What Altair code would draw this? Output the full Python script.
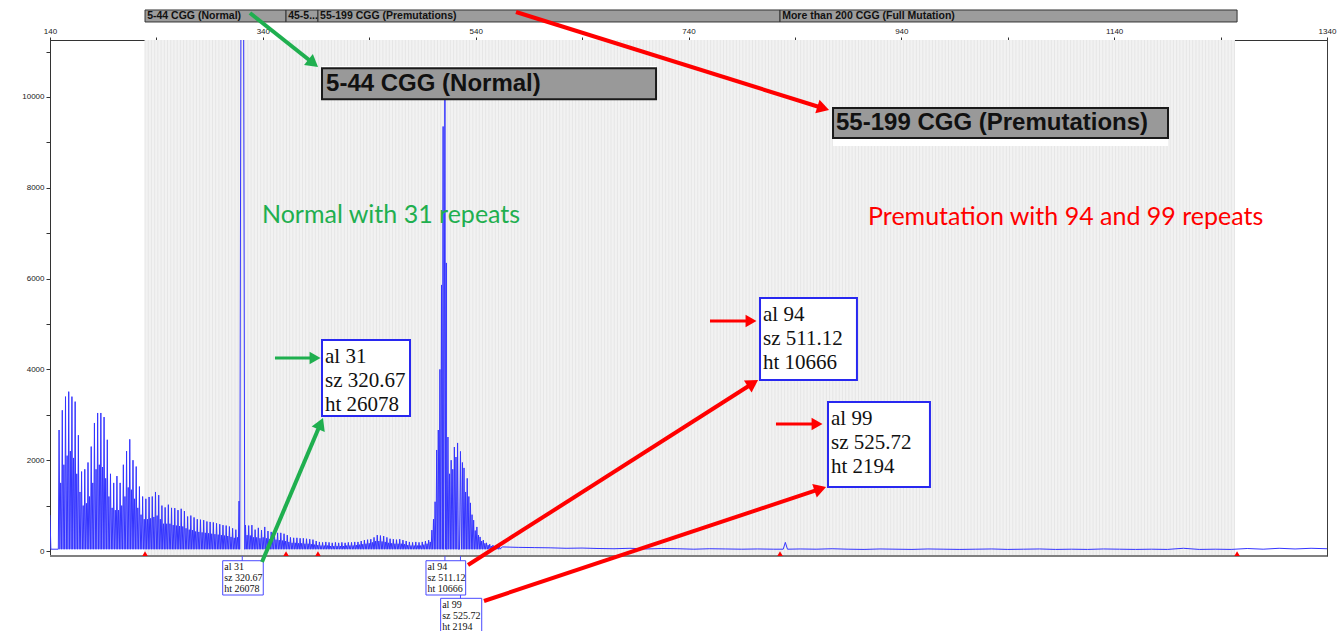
import math
import altair as alt
import pandas as pd

# ---------------- scale ranges ----------------
X_MIN, X_MAX = 140, 1340          # size (bp)
Y_MIN, Y_MAX = -110, 11255        # signal (RFU)
PLOT_W, PLOT_H = 1277, 516
PX_PER_BP = PLOT_W / (X_MAX - X_MIN)
PX_PER_RFU = PLOT_H / (Y_MAX - Y_MIN)

TRACE_BLUE = "#3434ff"
BOX_BLUE = "#2828f0"
GREEN = "#1faf4f"
RED = "#ff0000"

# ---------------- electropherogram data ----------------
lead_bp = [140.0, 140.8]
lead_rfu = [790, 40]

# CGG repeat ladder: one main peak per repeat, plus the minor peak between repeats
LADDER_START = 148.53
REPEAT_BP = 3.02
ladder_main = [
    2665, 3100, 3400, 3510, 3400, 3290, 2550, 1750, 1800, 1950,
    2300, 2820, 3040, 3040, 2950, 2450, 1700, 1500, 1650, 1500,
    1900, 2200, 2460, 2000, 1860, 1420, 1200, 1150, 1190, 1200,
    1300, 1230, 1000, 960, 1020, 950, 945, 900, 930, 880,
    760, 780, 740, 700, 690, 680, 650, 640, 630, 610,
    590, 570, 560, 540, 500, 470, 1100, None, 570, 560,
    570, 470, 510, 460, 530, 440, 420, 410, 400, 400,
    380, 350, 300, 290, 290, 280, 280, 270, 260, 250,
    220, 200, 190, 200, 190, 180, 190, 180, 190, 180,
    190, 190, 200, 200, 220, 240, 250, 260, 300, 350,
    340, 330, 300, 270, 260, 250, 260, 240, 220, 200,
    190, 200, 190, 200, 220, 240, 460, 1085, 2665, 5860,
    None, 2510, 2000, 2290, 2380, None, 1830, 1600, 1060, 680,
    530, 310, 240, 180, 150, 130, 120, 110,
]
ladder_minor = [
    1500, 1900, 2100, 2200, 2050, 1700, 1300, 1000, 1050, 1200,
    1500, 1800, 1900, 1850, 1600, 1200, 950, 900, 900, 1000,
    1200, 1400, 1350, 1150, 950, 800, 700, 700, 720, 750,
    780, 700, 600, 600, 600, 570, 560, 550, 540, 500,
    470, 460, 430, 420, 410, 400, 390, 380, 370, 360,
    350, 340, 330, 310, 290, 300, None, None, 350, 340,
    300, 300, 280, 300, 280, 260, 250, 250, 240, 230,
    220, 200, 180, 180, 170, 170, 160, 160, 150, 140,
    130, 120, 120, 120, 110, 110, 110, 110, 110, 120,
    120, 120, 130, 140, 150, 160, 170, 190, 220, 220,
    210, 200, 180, 170, 160, 160, 160, 150, 130, 120,
    120, 120, 120, 140, 160, 200, 700, 2225, 4000, 9350,
    6345, 1700, 1800, 2070, None, 1950, 1300, 1200, 800, 450,
    350, 220, 170, 130, 110, 100, 90,
]

# called alleles
allele_repeats = [31, 94, 99]
allele_size = [320.67, 511.12, 525.72]
allele_height = [26078, 10666, 2194]

# baseline beyond the repeat region
tail_bp = [565, 580, 595, 610, 625, 640, 655, 670, 685, 700, 715, 730, 745, 760,
           775, 790, 805, 820, 829, 831, 833, 845, 860, 875, 890, 905, 920, 935,
           950, 965, 980, 995, 1010, 1025, 1040, 1055, 1070, 1085, 1100, 1115,
           1130, 1145, 1160, 1175, 1190, 1205, 1220, 1235, 1250, 1265, 1280,
           1295, 1310, 1325, 1340]
tail_rfu = [90, 80, 75, 70, 60, 65, 55, 50, 60, 45, 55, 50, 40, 50,
            45, 40, 45, 40, 40, 190, 40, 45, 40, 50, 40, 35, 45, 40,
            35, 45, 40, 35, 40, 45, 35, 40, 45, 35, 40, 35,
            45, 40, 35, 40, 35, 60, 35, 40, 35, 55, 40,
            60, 45, 60, 50]

# ---------------- bins / categories ----------------
bin_names = ["5-44 CGG (Normal)", "45-5...", "55-199 CGG (Premutations)",
             "More than 200 CGG (Full Mutation)"]
bin_edges = [229.3, 361.8, 391.8, 826.0, 1255.5]

# ---------------- peak outline construction ----------------
BASELINE = 40
MAIN_HW = 0.7
ALLELE_HW = {31: 2.6, 94: 1.4, 99: 0.9}

pts = list(zip(lead_bp, lead_rfu))
for k, h in enumerate(ladder_main):
    if h is None:
        continue
    p = LADDER_START + k * REPEAT_BP
    pts += [(p - MAIN_HW, BASELINE), (p, h), (p + MAIN_HW, BASELINE)]
for k, h in enumerate(ladder_minor):
    if h is None:
        continue
    p = LADDER_START + (k + 0.5) * REPEAT_BP
    pts += [(p - MAIN_HW, BASELINE), (p, h), (p + MAIN_HW, BASELINE)]
for rep, s, h in zip(allele_repeats, allele_size, allele_height):
    hw = ALLELE_HW[rep]
    pts += [(s - hw, BASELINE), (s, h), (s + hw, BASELINE)]
pts += list(zip(tail_bp, tail_rfu))
pts.sort(key=lambda t: t[0])
trace = pd.DataFrame({"bp": [p[0] for p in pts], "rfu": [p[1] for p in pts],
                      "i": range(len(pts))})

XS = alt.Scale(domain=[X_MIN, X_MAX], nice=False, zero=False)
YS = alt.Scale(domain=[Y_MIN, Y_MAX], nice=False, zero=False)

# size axis on top, signal axis on the left; shared by every layer
AX_X = alt.Axis(orient="top", values=list(range(140, 1341, 100)), format="d",
                labelExpr="(datum.value - 140) % 200 == 0 ? datum.label : ''",
                title=None, tickSize=3, labelPadding=2, grid=False, labelFlush=False)
AX_Y = alt.Axis(orient="left", values=list(range(0, 11001, 1000)), format="d",
                labelExpr="datum.value % 2000 == 0 ? datum.label : ''",
                title=None, tickSize=4, labelPadding=2, grid=False, labelFlush=False)


def X(f):
    return alt.X(f"{f}:Q", scale=XS, axis=AX_X)


def Y(f):
    return alt.Y(f"{f}:Q", scale=YS, axis=AX_Y)


layers = []

# shaded bin region with its bin stripes
layers.append(alt.Chart(pd.DataFrame({"x0": [bin_edges[0]], "x1": [bin_edges[-1] - 2],
                                      "y0": [Y_MIN], "y1": [Y_MAX]}))
              .mark_rect(color="#f2f2f2")
              .encode(x=X("x0"), x2="x1:Q", y=Y("y0"), y2="y1:Q"))
stripes = []
b = bin_edges[0]
while b < bin_edges[-1] - 2:
    stripes.append(b)
    b += REPEAT_BP
layers.append(alt.Chart(pd.DataFrame({"bp": stripes, "y0": Y_MIN, "y1": Y_MAX}))
              .mark_rule(color="#e6e6e6", strokeWidth=1)
              .encode(x=X("bp"), y=Y("y0"), y2="y1:Q"))

# the trace
layers.append(alt.Chart(trace).mark_line(clip=True, color=TRACE_BLUE, strokeWidth=1)
              .encode(x=X("bp"), y=Y("rfu"), order="i:Q"))

# bottom frame line
layers.append(alt.Chart(pd.DataFrame({"x0": [X_MIN], "x1": [X_MAX], "y": [Y_MIN]}))
              .mark_rule(color="#808080", strokeWidth=2)
              .encode(x=X("x0"), x2="x1:Q", y=Y("y")))

# bin edge markers on the baseline
layers.append(alt.Chart(pd.DataFrame({"bp": bin_edges, "y": -60}))
              .mark_point(shape="triangle-up", filled=True, color=RED, size=30, opacity=1)
              .encode(x=X("bp"), y=Y("y")))

# category bar above the plot
BAR_LO, BAR_HI = 11652, 11916
cat = pd.DataFrame({"x0": bin_edges[:-1], "x1": bin_edges[1:], "y0": BAR_LO, "y1": BAR_HI,
                    "tx": [e + 2 for e in bin_edges[:-1]], "ty": (BAR_LO + BAR_HI) / 2,
                    "t": bin_names})
layers.append(alt.Chart(cat).mark_rect(fill="#9c9c9c", stroke="#333333", strokeWidth=1)
              .encode(x=X("x0"), x2="x1:Q", y=Y("y0"), y2="y1:Q"))
layers.append(alt.Chart(cat).mark_text(align="left", baseline="middle", font="Liberation Sans",
                                       fontSize=10.5, fontWeight="bold", color="#111111")
              .encode(x=X("tx"), y=Y("ty"), text="t:N"))

# small allele call boxes under the axis
small_x0 = [302.3, 493.3, 507.1]
small_x1 = [340.4, 530.6, 545.7]
small_top = [-214, -214, -1042]
small_bot = [-969, -969, -1850]
SMALL_LINE_PX = 11
layers.append(alt.Chart(pd.DataFrame({"x0": small_x0, "x1": small_x1,
                                      "y0": small_bot, "y1": small_top}))
              .mark_rect(fill="white", stroke="#4a4aff", strokeWidth=1)
              .encode(x=X("x0"), x2="x1:Q", y=Y("y0"), y2="y1:Q"))
conn = pd.DataFrame({"bp": allele_size + [allele_size[2]],
                     "y0": [Y_MIN, Y_MIN, Y_MIN, small_bot[1]],
                     "y1": [small_top[0], small_top[1], small_top[1], small_top[2]]})
layers.append(alt.Chart(conn).mark_rule(color="#4a4aff", strokeWidth=1)
              .encode(x=X("bp"), y=Y("y0"), y2="y1:Q"))


def call_lines(rep, size, ht):
    return [f"al {rep}", f"sz {size:.2f}", f"ht {ht}"]


rows = []
for j, (rep, s, h) in enumerate(zip(allele_repeats, allele_size, allele_height)):
    for n, line in enumerate(call_lines(rep, s, h)):
        rows.append({"x": small_x0[j] + 1.4,
                     "y": small_top[j] - (6.3 + n * SMALL_LINE_PX) / PX_PER_RFU,
                     "t": line})
layers.append(alt.Chart(pd.DataFrame(rows))
              .mark_text(align="left", baseline="middle", font="Liberation Serif",
                         fontSize=10, color="#111111")
              .encode(x=X("x"), y=Y("y"), text="t:N"))

# enlarged allele call boxes
big_x0 = [395.6, 807.2, 871.1]
big_x1 = [478.3, 898.3, 966.9]
big_top = [4647, 5573, 3282]
big_bot = [2974, 3766, 1410]
BIG_LINE_PX = 24
layers.append(alt.Chart(pd.DataFrame({"x0": big_x0, "x1": big_x1,
                                      "y0": big_bot, "y1": big_top}))
              .mark_rect(fill="white", stroke=BOX_BLUE, strokeWidth=2)
              .encode(x=X("x0"), x2="x1:Q", y=Y("y0"), y2="y1:Q"))
rows = []
for j, (rep, s, h) in enumerate(zip(allele_repeats, allele_size, allele_height)):
    for n, line in enumerate(call_lines(rep, s, h)):
        rows.append({"x": big_x0[j] + 2.8,
                     "y": big_top[j] - (17 + n * BIG_LINE_PX) / PX_PER_RFU,
                     "t": line})
layers.append(alt.Chart(pd.DataFrame(rows))
              .mark_text(align="left", baseline="middle", font="Liberation Serif",
                         fontSize=21, color="#111111")
              .encode(x=X("x"), y=Y("y"), text="t:N"))

# enlarged category labels
lab = pd.DataFrame({"x0": [395.6, 875.8], "x1": [709.5, 1190.6],
                    "y0": [9949, 9097], "y1": [10632, 9758],
                    "w0": [9949, 8921], "w1": [10683, 9758],
                    "tx": [399.4, 878.6], "ty": [10286, 9427],
                    "t": [bin_names[0], bin_names[2]]})
layers.append(alt.Chart(lab).mark_rect(fill="white")
              .encode(x=X("x0"), x2="x1:Q", y=Y("w0"), y2="w1:Q"))
layers.append(alt.Chart(lab).mark_rect(fill="#999999", stroke="#1a1a1a", strokeWidth=2)
              .encode(x=X("x0"), x2="x1:Q", y=Y("y0"), y2="y1:Q"))
layers.append(alt.Chart(lab).mark_text(align="left", baseline="middle", font="Liberation Sans",
                                       fontSize=24, fontWeight="bold", color="#111111")
              .encode(x=X("tx"), y=Y("ty"), text="t:N"))

# interpretation notes
notes = pd.DataFrame({"x": [339.2, 908.7], "y": [7401, 7357],
                      "t": ["Normal with 31 repeats", "Premutation with 94 and 99 repeats"],
                      "c": [GREEN, RED]})
layers.append(alt.Chart(notes).mark_text(align="left", baseline="middle", font="Lato",
                                         fontSize=25)
              .encode(x=X("x"), y=Y("y"), text="t:N", color=alt.Color("c:N", scale=None)))

# arrows
arrow_x0 = [327.9, 577.9, 339.2, 351.4, 532.8, 547.8, 760.2, 822.2]
arrow_y0 = [11850, 11872, -242, 4251, -308, -1101, 5066, 2797]
arrow_x1 = [391.8, 872.0, 396.5, 394.7, 805.3, 869.2, 804.4, 866.4]
arrow_y1 = [10661, 9713, 2929, 4251, 3766, 1410, 5066, 2797]
arrow_col = [GREEN, RED, GREEN, GREEN, RED, RED, RED, RED]
arrow_w = [4, 4, 4, 3, 4, 4, 3, 3]
HEAD_BACK_PX = 6
heads = []
shafts = []
for x0, y0, x1, y1, c, w in zip(arrow_x0, arrow_y0, arrow_x1, arrow_y1, arrow_col, arrow_w):
    dx = (x1 - x0) * PX_PER_BP
    dy = -(y1 - y0) * PX_PER_RFU
    L = math.hypot(dx, dy)
    ux, uy = dx / L, dy / L
    hx = x1 - HEAD_BACK_PX * ux / PX_PER_BP
    hy = y1 + HEAD_BACK_PX * uy / PX_PER_RFU
    ang = math.degrees(math.atan2(ux, -uy)) % 360
    shafts.append({"x0": x0, "y0": y0, "x1": hx, "y1": hy, "c": c, "w": w})
    heads.append({"x": hx, "y": hy, "a": ang, "c": c, "s": 200 if w == 4 else 160})
layers.append(alt.Chart(pd.DataFrame(shafts)).mark_rule(strokeCap="butt")
              .encode(x=X("x0"), y=Y("y0"), x2="x1:Q", y2="y1:Q",
                      color=alt.Color("c:N", scale=None),
                      strokeWidth=alt.StrokeWidth("w:Q", scale=None)))
layers.append(alt.Chart(pd.DataFrame(heads))
              .mark_point(shape="triangle-up", filled=True, opacity=1)
              .encode(x=X("x"), y=Y("y"), angle=alt.Angle("a:Q", scale=None),
                      color=alt.Color("c:N", scale=None), size=alt.Size("s:Q", scale=None)))

chart = (alt.layer(*layers)
         .properties(width=PLOT_W, height=PLOT_H,
                     autosize=alt.AutoSizeParams(type="none"),
                     padding={"left": 50, "top": 40, "right": 15, "bottom": 75})
         .configure_view(stroke="#3c3c3c", strokeWidth=1)
         .configure_axis(domainColor="#333333", tickColor="#333333", labelColor="#222222",
                         labelFont="Liberation Sans", labelFontSize=8))

chart.save("out.html", embed_options={"renderer": "svg", "actions": False})
